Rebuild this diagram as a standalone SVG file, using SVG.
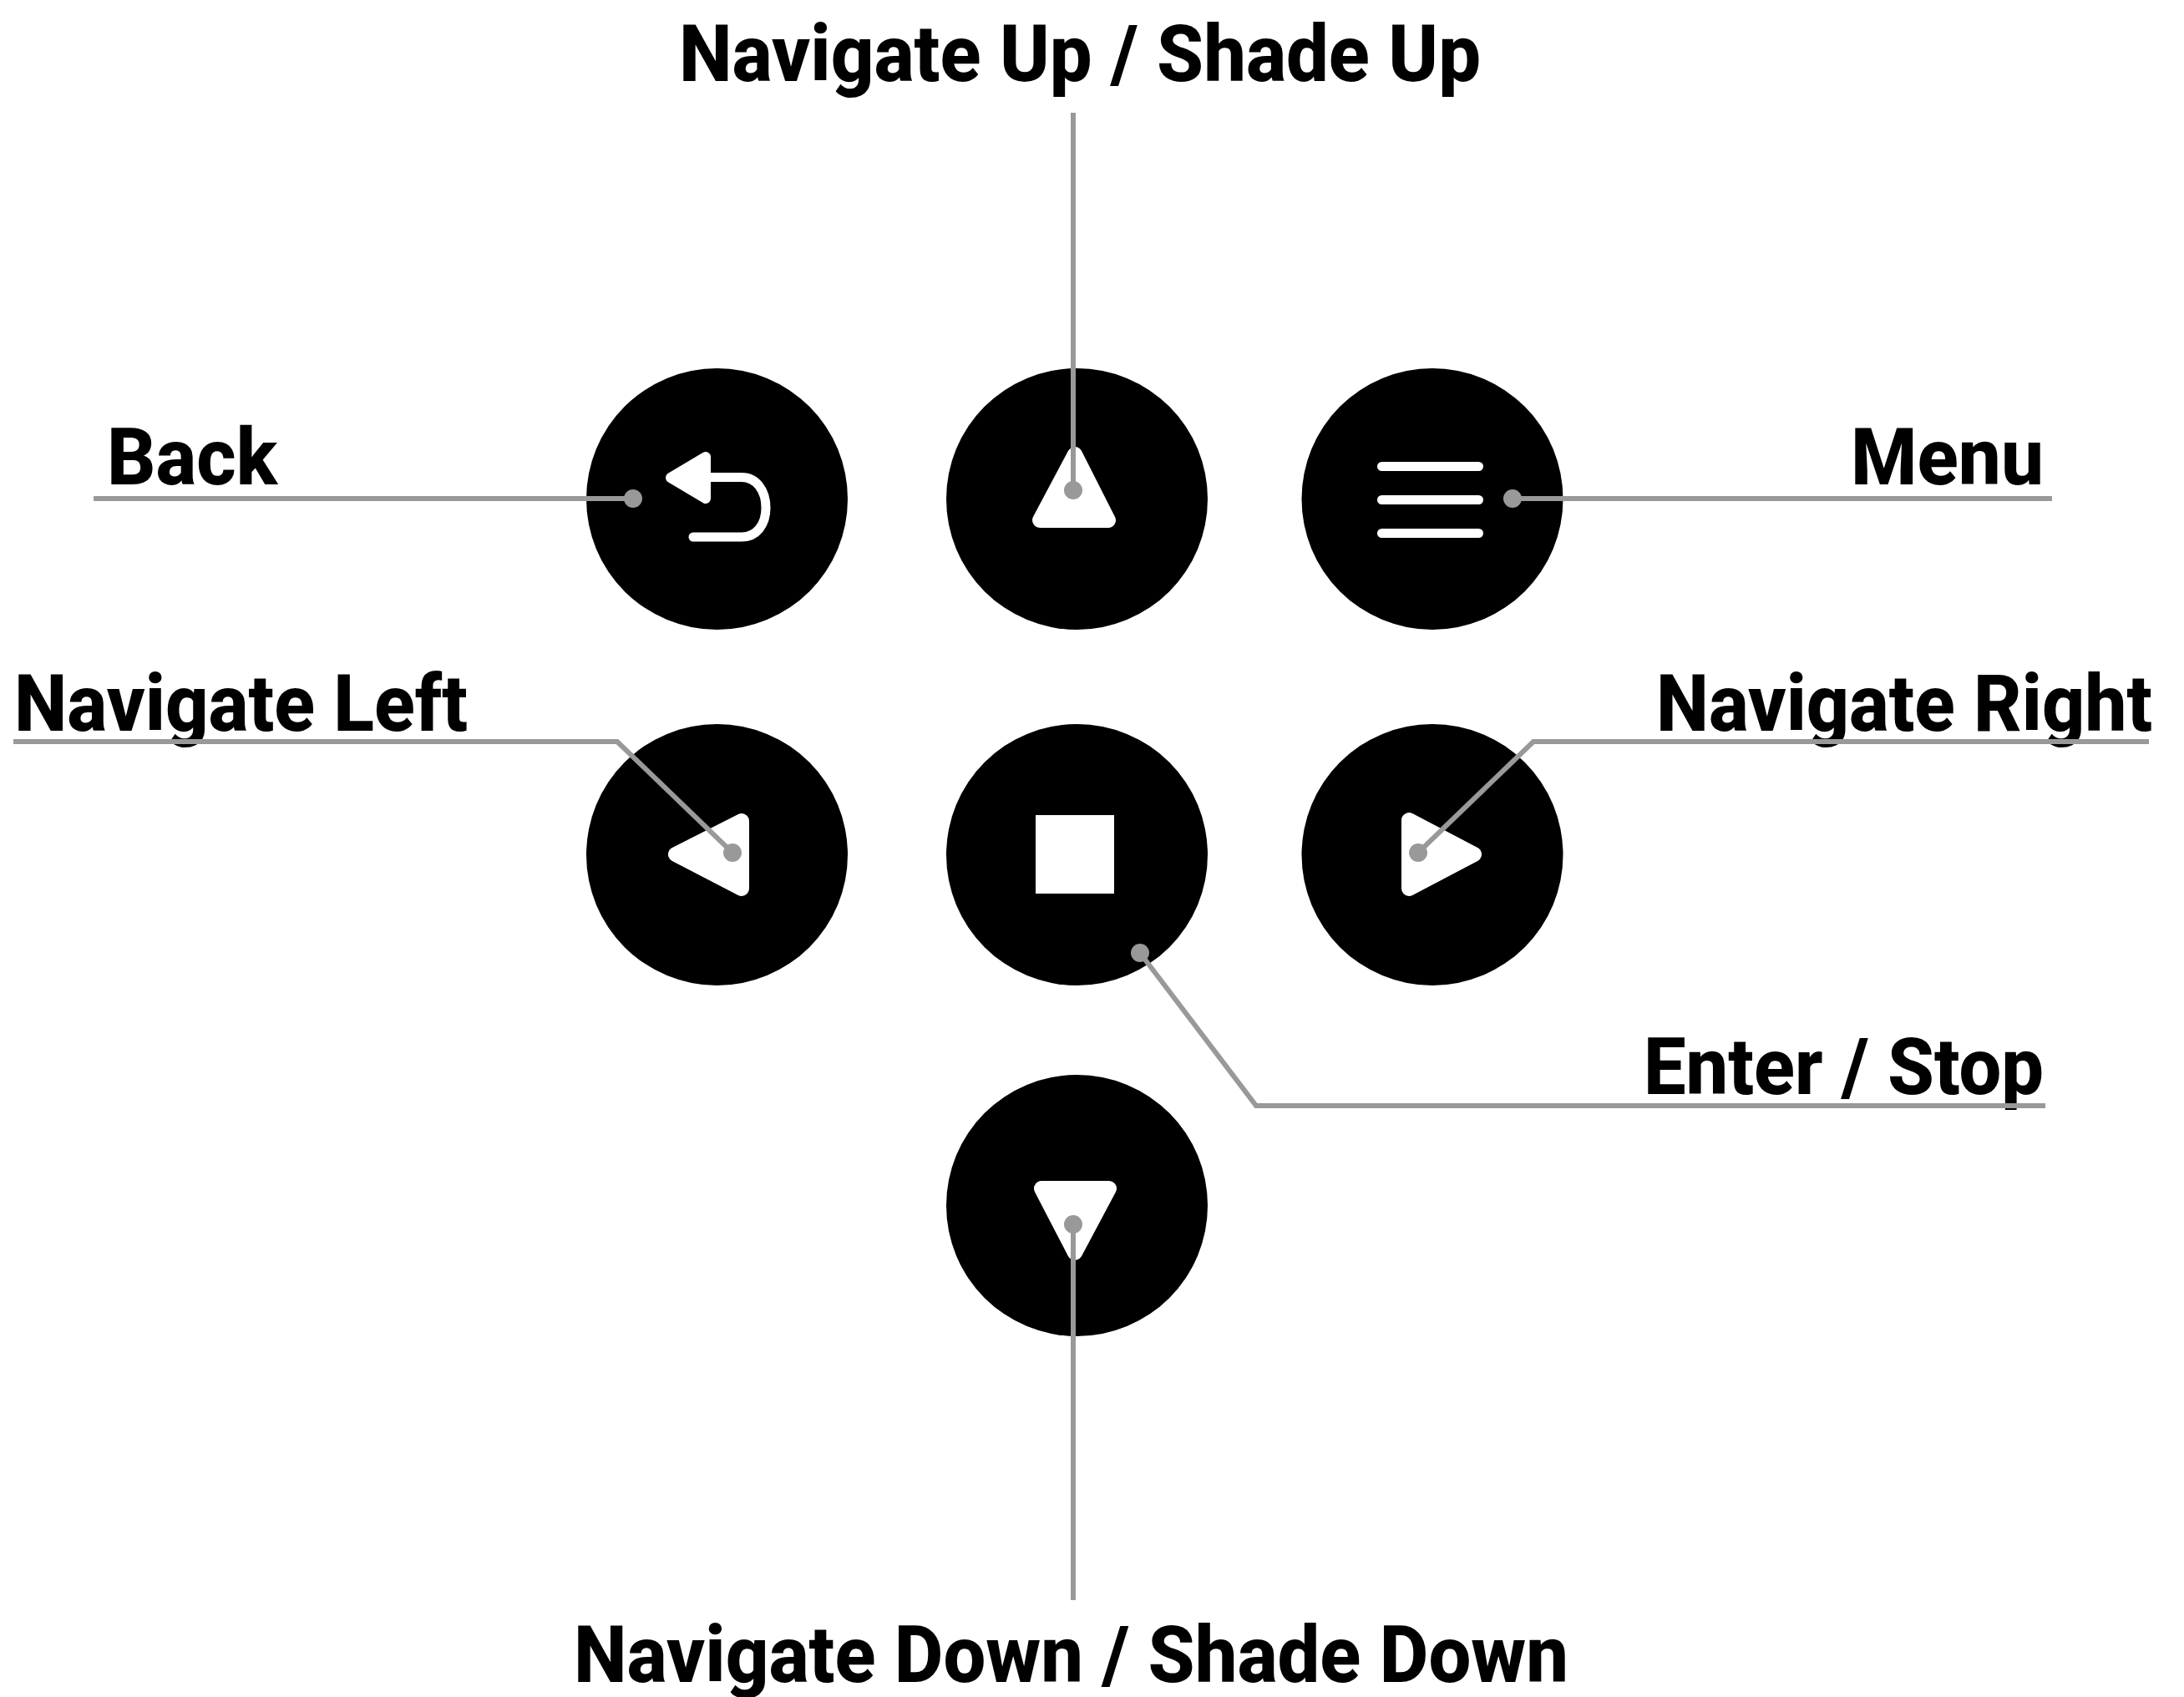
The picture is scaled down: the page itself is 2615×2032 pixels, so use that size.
<svg xmlns="http://www.w3.org/2000/svg" width="2615" height="2032" viewBox="0 0 2615 2032">
<style>
.btn{fill:#000}
.ico{fill:#fff;stroke:#fff;stroke-width:18;stroke-linejoin:round}
.bar{fill:#fff}
.lbl{font-family:Roboto,"Liberation Sans",sans-serif;font-weight:800;font-size:94px;fill:#000}
.con{fill:none;stroke:#999;stroke-width:6}
.dot{fill:#999}
</style>
<rect width="2615" height="2032" fill="#fff"/>
<g id="labels">
<text class="lbl" x="813" y="97" textLength="960" lengthAdjust="spacingAndGlyphs">Navigate Up / Shade Up</text>
<text class="lbl" x="128" y="580" textLength="204" lengthAdjust="spacingAndGlyphs">Back</text>
<text class="lbl" x="2216" y="580" textLength="231" lengthAdjust="spacingAndGlyphs">Menu</text>
<text class="lbl" x="17" y="875" textLength="543" lengthAdjust="spacingAndGlyphs">Navigate Left</text>
<text class="lbl" x="1983" y="875" textLength="594" lengthAdjust="spacingAndGlyphs">Navigate Right</text>
<text class="lbl" x="1968" y="1310" textLength="479" lengthAdjust="spacingAndGlyphs">Enter / Stop</text>
<text class="lbl" x="687" y="2014" textLength="1191" lengthAdjust="spacingAndGlyphs">Navigate Down / Shade Down</text>
</g>
<g id="node-back"><circle class="btn" cx="858.500" cy="597.500" r="156.500"/>
<path class="ico" style="stroke-width:12" d="M803 572L845 547V597Z"/>
<path d="M850 571.500H888C906 571.500 917 588 917 608C917 628 906 643 888 643H830" fill="none" stroke="#fff" stroke-width="11" stroke-linecap="round"/></g>
<g id="node-up"><circle class="btn" cx="1289.500" cy="597.500" r="156.500"/><path class="ico" d="M1287 544L1327 623H1245Z"/></g>
<g id="node-menu"><circle class="btn" cx="1715" cy="597.500" r="156.500"/>
<rect class="bar" x="1649" y="553" width="127" height="11" rx="5.500"/><rect class="bar" x="1649" y="593" width="127" height="11" rx="5.500"/><rect class="bar" x="1649" y="633" width="127" height="11" rx="5.500"/></g>
<g id="node-left"><circle class="btn" cx="858.500" cy="1023.500" r="156.500"/><path class="ico" d="M809 1023L888 983V1064Z"/></g>
<g id="node-enter"><circle class="btn" cx="1289.500" cy="1023.500" r="156.500"/><rect x="1240" y="976" width="94" height="94" fill="#fff"/></g>
<g id="node-right"><circle class="btn" cx="1715" cy="1023.500" r="156.500"/><path class="ico" d="M1765 1023L1687 982V1064Z"/></g>
<g id="node-down"><circle class="btn" cx="1289.500" cy="1443.500" r="156.500"/><path class="ico" d="M1247 1423H1328L1287 1500Z"/></g>
<g id="connectors">
<path class="con" d="M1285 135V587"/><circle class="dot" cx="1285" cy="587" r="11"/>
<path class="con" d="M112 597H758"/><circle class="dot" cx="758" cy="597" r="11"/>
<path class="con" d="M2457 597H1811"/><circle class="dot" cx="1811" cy="597" r="11"/>
<path class="con" d="M16 888H739L877 1021"/><circle class="dot" cx="877" cy="1021" r="11"/>
<path class="con" d="M2573 888H1836L1698 1021"/><circle class="dot" cx="1698" cy="1021" r="11"/>
<path class="con" d="M2449 1324H1504L1365 1141"/><circle class="dot" cx="1365" cy="1141" r="11"/>
<path class="con" d="M1285 1916V1466"/><circle class="dot" cx="1285" cy="1466" r="11"/>
</g>
</svg>
